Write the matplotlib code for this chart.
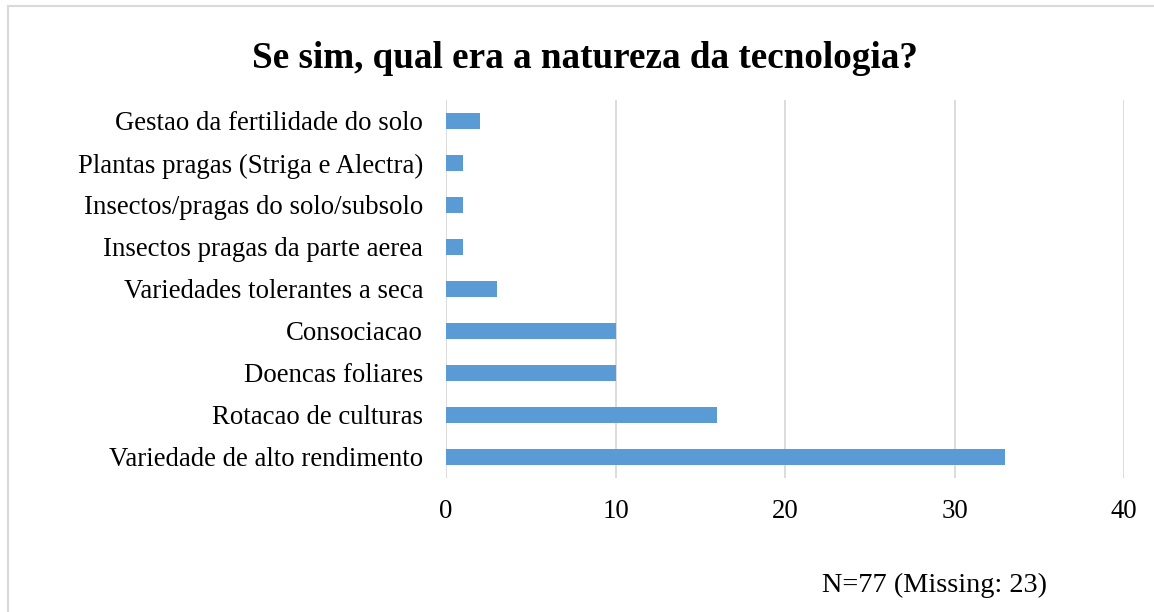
import matplotlib.pyplot as plt
from matplotlib.lines import Line2D

categories = [
    'Variedade de alto rendimento',
    'Rotacao de culturas',
    'Doencas foliares',
    'Consociacao',
    'Variedades tolerantes a seca',
    'Insectos pragas da parte aerea',
    'Insectos/pragas do solo/subsolo',
    'Plantas pragas (Striga e Alectra)',
    'Gestao da fertilidade do solo',
]
counts = [33, 16, 10, 10, 3, 1, 1, 1, 2]
xticks = [0, 10, 20, 30, 40]

plt.rcParams['font.family'] = ['Liberation Serif', 'DejaVu Serif']

fig = plt.figure(figsize=(11.54, 6.12), dpi=100)
ax = fig.add_axes([0.3865, 0.219, 0.5875, 0.6176])

ax.barh(range(len(categories)), counts, height=0.36, color='#5B9BD5', zorder=3)
ax.set_yticks(range(len(categories)))
ax.set_yticklabels(categories, fontsize=19.3)
ax.set_xlim(0, 40)
ax.set_ylim(-0.5, len(categories) - 0.5)
ax.set_xticks(xticks)
ax.set_xticklabels([str(t) for t in xticks], fontsize=19.3)
ax.tick_params(axis='both', length=0)
ax.tick_params(axis='x', pad=15.5)
ax.tick_params(axis='y', pad=16.5)
ax.grid(axis='x', color='#D9D9D9', linewidth=1.3, zorder=0)
for s in ax.spines.values():
    s.set_visible(False)

fig.text(0.507, 0.905, 'Se sim, qual era a natureza da tecnologia?', ha='center', va='center',
         fontsize=26.7, fontweight='bold')
fig.text(0.81, 0.044, 'N=77 (Missing: 23)', ha='center', va='center', fontsize=20.3)

# light border on left and top
fig.add_artist(Line2D([0.0065, 0.0065], [0, 0.99], transform=fig.transFigure, color='#D9D9D9', lw=1.5))
fig.add_artist(Line2D([0.0065, 1], [0.99, 0.99], transform=fig.transFigure, color='#D9D9D9', lw=1.5))

fig.savefig('out.png', dpi=100)
